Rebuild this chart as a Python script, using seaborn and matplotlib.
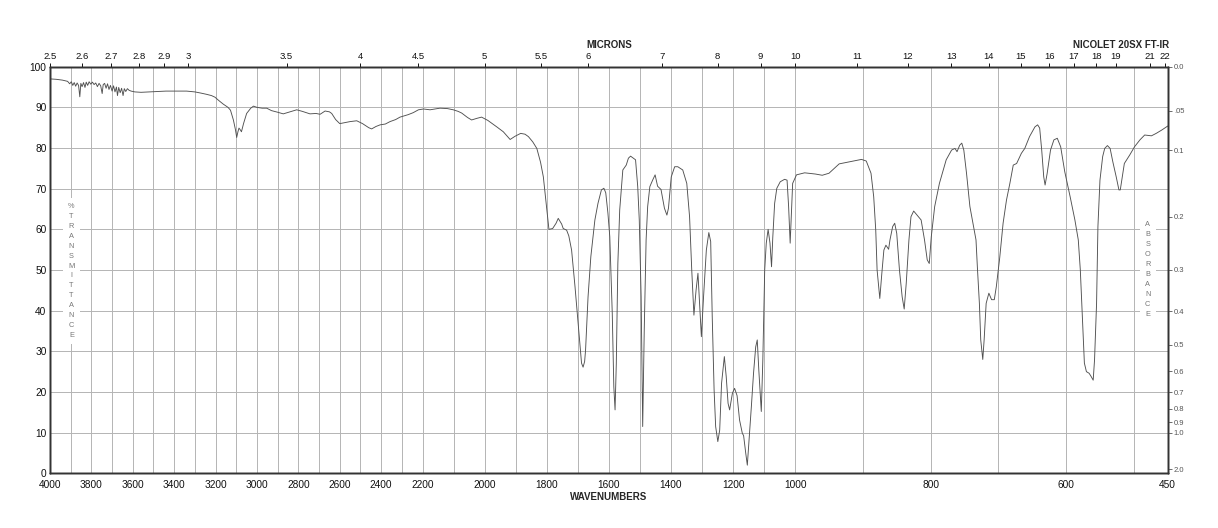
import numpy as np
import pandas as pd
import matplotlib
matplotlib.use("Agg")
import matplotlib.pyplot as plt
import seaborn as sns

# ---------------- data ----------------
wavenumber = [
    4000, 3970, 3940, 3915, 3905, 3897, 3890, 3883, 3876, 3869, 3862, 3856, 3851, 3845, 3838,
    3831, 3825, 3818, 3811, 3803, 3795, 3787, 3779, 3771, 3763, 3755, 3748, 3743, 3736, 3729,
    3722, 3715, 3708, 3700, 3693, 3686, 3679, 3674, 3668, 3661, 3654, 3647, 3641, 3634, 3626,
    3618, 3608, 3590, 3560, 3520, 3480, 3440, 3400, 3340, 3300, 3270, 3243, 3220, 3203, 3185,
    3163, 3140, 3128, 3114, 3104, 3098, 3092, 3087, 3081, 3075, 3065, 3050, 3030, 3017, 3000,
    2975, 2953, 2930, 2900, 2873, 2840, 2808, 2780, 2744, 2715, 2695, 2671, 2650, 2639, 2620,
    2600, 2580, 2550, 2518, 2490, 2460, 2446, 2425, 2405, 2380, 2357, 2330, 2309, 2270, 2245,
    2220, 2197, 2176, 2160, 2144, 2120, 2101, 2085, 2074, 2055, 2042, 2025, 2010, 1990, 1961,
    1940, 1918, 1902, 1884, 1870, 1859, 1845, 1832, 1820, 1811, 1802, 1793, 1781, 1770, 1763,
    1752, 1747, 1736, 1729, 1720, 1709, 1699, 1688, 1683, 1678, 1675, 1667, 1658, 1645, 1635,
    1624, 1616, 1610, 1603, 1597, 1589, 1584, 1580, 1576, 1571, 1565, 1555, 1544, 1537, 1530,
    1521, 1514, 1507, 1502, 1496, 1491, 1486, 1480, 1475, 1468, 1459, 1451, 1443, 1432, 1421,
    1413, 1408, 1399, 1388, 1378, 1362, 1349, 1340, 1333, 1326, 1319, 1313, 1308, 1302, 1295,
    1286, 1278, 1272, 1267, 1261, 1256, 1249, 1243, 1237, 1228, 1222, 1216, 1211, 1202, 1195,
    1187, 1179, 1170, 1166, 1159, 1154, 1149, 1141, 1134, 1127, 1122, 1117, 1109, 1104, 1098,
    1093, 1087, 1081, 1076, 1072, 1066, 1059, 1048, 1034, 1026, 1021, 1016, 1012, 1008, 998,
    986, 970, 960, 950, 935, 902, 895, 888, 884, 881, 879, 875, 872, 869, 866,
    862, 860, 856, 853, 850, 846, 842, 839, 836, 832, 829, 825, 820, 814, 809,
    805, 802, 799, 794, 787, 777, 769, 764, 761, 757, 754, 751, 747, 742, 737,
    733, 731, 728, 726, 723, 721, 718, 714, 710, 706, 703, 698, 693, 688, 683,
    678, 673, 666, 661, 654, 646, 642, 639, 636, 633, 631, 628, 623, 618, 613,
    608, 602, 594, 587, 582, 579, 576, 573, 570, 566, 563, 560, 558, 555, 553,
    550, 546, 543, 539, 535, 531, 526, 522, 520, 517, 514, 506, 499, 491, 484,
    474, 467, 459, 452, 450,
]
transmittance = [
    97.0, 96.9, 96.7, 96.4, 95.8, 96.3, 95.4, 96.1, 95.2, 96.0, 95.4, 92.6, 95.9, 95.1, 96.1,
    94.9, 96.2, 95.4, 96.3, 95.7, 96.2, 95.6, 96.0, 95.1, 95.9, 95.3, 93.4, 95.6, 95.9, 94.7,
    95.8, 94.4, 95.4, 94.0, 95.3, 93.8, 95.0, 92.9, 94.9, 93.6, 94.7, 92.9, 94.6, 93.9, 94.6,
    94.2, 94.0, 93.8, 93.7, 93.8, 93.9, 94.0, 94.0, 94.0, 93.8, 93.5, 93.2, 92.9, 92.5, 91.7,
    90.8, 90.0, 89.3, 86.9, 84.5, 82.6, 84.0, 84.9, 84.5, 84.0, 86.0, 88.5, 89.8, 90.3, 90.0,
    89.8, 89.8, 89.2, 88.8, 88.4, 88.9, 89.4, 89.0, 88.4, 88.5, 88.3, 89.1, 88.9, 88.5, 87.0,
    86.0, 86.2, 86.5, 86.7, 86.0, 85.0, 84.7, 85.3, 85.7, 85.9, 86.5, 87.0, 87.6, 88.2, 88.7,
    89.4, 89.6, 89.4, 89.6, 89.8, 89.7, 89.4, 89.0, 88.6, 87.5, 86.9, 87.3, 87.6, 86.8, 85.2,
    84.0, 82.1, 82.9, 83.6, 83.4, 82.8, 81.5, 79.9, 76.5, 72.9, 66.4, 60.0, 60.2, 61.5, 62.7,
    61.3, 60.2, 59.8, 58.4, 54.9, 45.9, 36.9, 27.1, 26.1, 27.5, 30.3, 43.4, 53.3, 62.3, 66.4,
    69.7, 70.1, 69.0, 64.0, 58.2, 39.3, 21.3, 15.6, 27.0, 51.6, 64.8, 74.6, 75.8, 77.5, 78.0,
    77.5, 77.1, 70.5, 62.3, 43.4, 11.5, 35.2, 57.4, 65.6, 70.5, 72.1, 73.4, 70.6, 69.8, 65.2,
    63.5, 65.2, 72.9, 75.4, 75.4, 74.6, 71.3, 63.1, 50.0, 38.9, 45.1, 49.2, 42.0, 33.6, 43.4,
    54.9, 59.2, 57.0, 38.5, 20.5, 11.5, 7.8, 10.6, 22.1, 28.7, 23.8, 17.2, 15.6, 19.7, 20.9,
    19.1, 13.1, 9.8, 9.3, 4.9, 2.0, 7.4, 16.4, 24.6, 31.1, 32.8, 25.4, 15.2, 28.0, 50.0,
    56.6, 60.0, 56.6, 50.8, 58.0, 66.4, 70.1, 71.7, 72.3, 72.1, 65.6, 56.6, 64.0, 71.3, 73.4,
    73.9, 73.6, 73.3, 73.8, 76.1, 77.2, 76.8, 73.8, 68.0, 59.8, 50.0, 43.0, 49.2, 54.9, 56.1,
    55.1, 57.4, 60.7, 61.5, 59.0, 50.0, 43.4, 40.4, 46.7, 57.4, 63.1, 64.5, 63.5, 62.3, 57.4,
    52.5, 51.6, 58.2, 65.6, 71.3, 77.1, 79.5, 79.9, 79.1, 80.7, 81.2, 79.5, 73.8, 65.6, 61.1,
    57.4, 50.8, 41.8, 32.8, 28.0, 32.8, 41.8, 44.3, 42.7, 42.7, 45.9, 53.0, 61.5, 67.2, 71.3,
    75.8, 76.2, 78.7, 79.9, 82.8, 85.2, 85.7, 84.9, 79.5, 72.9, 70.9, 73.7, 79.5, 82.0, 82.4,
    80.3, 74.2, 68.0, 62.3, 57.4, 50.0, 38.5, 27.1, 25.0, 24.6, 23.8, 22.9, 27.9, 41.8, 60.7,
    72.1, 77.9, 79.9, 80.6, 79.9, 76.6, 72.9, 69.7, 69.7, 72.9, 76.2, 78.3, 80.3, 82.0, 83.2,
    83.0, 83.6, 84.4, 85.2, 85.4,
]

wn_ticks = [4000, 3800, 3600, 3400, 3200, 3000, 2800, 2600, 2400, 2200, 2000,
            1800, 1600, 1400, 1200, 1000, 800, 600, 450]
micron_labels = ["2.5", "2.6", "2.7", "2.8", "2.9", "3", "3.5", "4", "4.5", "5", "5.5",
                 "6", "7", "8", "9", "10", "11", "12", "13", "14", "15", "16", "17",
                 "18", "19", "21", "22"]
t_ticks = [0, 10, 20, 30, 40, 50, 60, 70, 80, 90, 100]
abs_labels = ["0.0", ".05", "0.1", "0.2", "0.3", "0.4", "0.5", "0.6", "0.7", "0.8",
              "0.9", "1.0", "2.0"]

df = pd.DataFrame({"wavenumber": wavenumber, "transmittance": transmittance})

# ---------------- style ----------------
sns.set_style("white")
plt.rcParams["font.family"] = ["Liberation Sans", "DejaVu Sans"]

W, H = 1218, 528
fig = plt.figure(figsize=(W / 100, H / 100), dpi=100)
L, R, T, B = 50, 1167.7, 66.7, 473.3
ax = fig.add_axes([L / W, 1 - B / H, (R - L) / W, (B - T) / H])


def fwd(x):
    x = np.asarray(x, dtype=float)
    return np.where(x < 1000, (x - 450) / 550,
                    np.where(x < 2200, 1 + (x - 1000) / 1200, 2 + (x - 2200) / 1800))


def inv(y):
    y = np.asarray(y, dtype=float)
    return np.where(y < 1, 450 + y * 550,
                    np.where(y < 2, 1000 + (y - 1) * 1200, 2200 + (y - 2) * 1800))


ax.set_xscale("function", functions=(fwd, inv))
sns.lineplot(data=df, x="wavenumber", y="transmittance", sort=False, estimator=None,
             color="#505050", linewidth=0.65, ax=ax)
ax.set_xlim(4000, 450)
ax.set_ylim(0, 100)
ax.set_xlabel("")
ax.set_ylabel("")

grid_col = "#b4b4b4"
ax.set_xticks(wn_ticks)
ax.set_xticklabels([str(v) for v in wn_ticks])
ax.set_xticks(np.arange(500, 4000, 100), minor=True)
ax.set_yticks(t_ticks)
ax.set_yticklabels([str(v) for v in t_ticks])
ax.grid(True, which="both", axis="x", color=grid_col, linewidth=0.7)
ax.grid(True, which="major", axis="y", color=grid_col, linewidth=0.7)
ax.tick_params(axis="x", which="both", length=0, labelsize=7.3, pad=4.5, colors="#111")
ax.tick_params(axis="y", which="both", length=0, labelsize=7.3, pad=2.5, colors="#111")

# top micron axis
ax2 = ax.twiny()
ax2.set_xscale("function", functions=(fwd, inv))
ax2.set_xlim(4000, 450)
ax2.set_xticks([10000 / float(m) for m in micron_labels])
ax2.set_xticklabels(micron_labels)
ax2.tick_params(axis="x", length=3, width=0.7, labelsize=6.8, pad=1.2, colors="#111")

# right absorbance axis
ax3 = ax.twinx()
ax3.set_ylim(0, 100)
ax3.set_yticks([100 * 10 ** (-float(a)) for a in abs_labels])
ax3.set_yticklabels(abs_labels)
ax3.tick_params(axis="y", length=3, width=0.6, labelsize=5.5, pad=1.5, colors="#555")

for a in (ax, ax2, ax3):
    for s in a.spines.values():
        s.set_color("#333333")
        s.set_linewidth(1.0)

# titles
fig.text(609 / W, 1 - 44.5 / H, "MICRONS", ha="center", va="center",
         fontsize=7, fontweight="bold")
fig.text(1121 / W, 1 - 44.5 / H, "NICOLET 20SX FT-IR", ha="center", va="center",
         fontsize=7, fontweight="bold")
fig.text(609 / W, 1 - 496.5 / H, "WAVENUMBERS", ha="center", va="center",
         fontsize=7, fontweight="bold")

box = dict(facecolor="white", edgecolor="none", boxstyle="square,pad=0.7")
fig.text(71.5 / W, 1 - 271 / H, "\n".join("%TRANSMITTANCE"), ha="center", va="center",
         fontsize=5.3, color="#777", linespacing=1.58, bbox=box)
fig.text(1147.7 / W, 1 - 270 / H, "\n".join("ABSORBANCE"), ha="center", va="center",
         fontsize=5.3, color="#777", linespacing=1.6, bbox=box)

fig.savefig("out.png", dpi=100)
